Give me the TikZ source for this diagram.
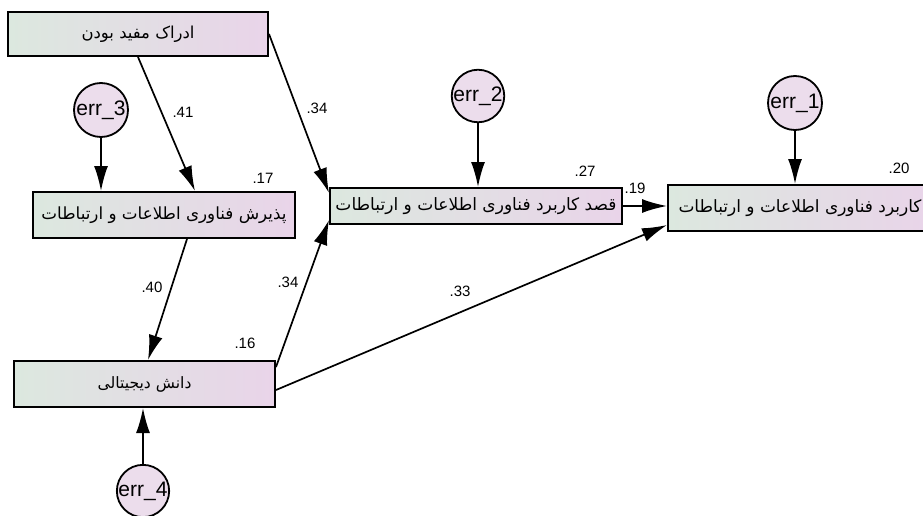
\documentclass[tikz,border=0pt]{standalone}
\usepackage{fontspec}
\usepackage{graphicx}
\setmainfont{Liberation Sans}
\newfontfamily\arabicfont[Script=Arabic]{DejaVu Sans}
\TeXXeTstate=1
\usetikzlibrary{arrows.meta,calc}

\definecolor{boxleft}{HTML}{DCE8DF}
\definecolor{boxright}{HTML}{E9D4E9}
\definecolor{errfill}{HTML}{ECDDEC}

\tikzset{
  varbox/.style={draw=black, line width=2pt, rectangle, inner sep=0pt,
    left color=boxleft, right color=boxright,
    font=\arabicfont\fontsize{16}{16}\selectfont},
  errnode/.style={draw=black, line width=1.8pt, circle, inner sep=0pt,
    fill=errfill, font=\fontsize{21}{23}\selectfont},
  causal/.style={line width=1.7pt, -{Latex[length=25pt,width=14pt]}},
  coef/.style={font=\fontsize{15}{17}\selectfont, inner sep=0pt}
}

\begin{document}
\begin{tikzpicture}[x=1pt,y=-1pt]
\useasboundingbox (0,0) rectangle (923,516);

% observed variables (Persian labels, right to left, brought to a set width)
\node[varbox, minimum width=260pt, minimum height=44pt] (A) at (138,34)
  {\resizebox{113pt}{!}{\beginR ادراک مفید بودن\endR}};
\node[varbox, minimum width=262pt, minimum height=46pt] (B) at (164,215)
  {\resizebox{245pt}{!}{\beginR پذیرش فناوری اطلاعات و ارتباطات\endR}};
\node[varbox, minimum width=261pt, minimum height=46pt] (D) at (144.5,384)
  {\resizebox{94pt}{!}{\beginR دانش دیجیتالی\endR}};
\node[varbox, minimum width=292pt, minimum height=36pt] (C) at (476,206)
  {\resizebox{281pt}{!}{\beginR قصد کاربرد فناوری اطلاعات و ارتباطات\endR}};
\node[varbox, minimum width=264pt, minimum height=46pt] (E) at (800,208)
  {\resizebox{243pt}{!}{\beginR کاربرد فناوری اطلاعات و ارتباطات\endR}};

% error terms
\node[errnode, minimum size=54pt] (e3) at (101,110) {err\_3};
\node[errnode, minimum size=52pt] (e2) at (478,96) {err\_2};
\node[errnode, minimum size=54pt] (e1) at (795,103) {err\_1};
\node[errnode, minimum size=52pt] (e4) at (143,491) {err\_4};

% structural paths
\draw[causal] (A.south) -- ([xshift=31pt]B.north);
\draw[causal] (A.east) -- ([yshift=13pt]C.west);
\draw[causal] ([xshift=23pt]B.south) -- ([xshift=3.5pt]D.north);
\draw[causal] ([yshift=17pt]D.east) -- ([yshift=-14pt]C.west);
\draw[causal] ([yshift=-6pt]D.east) -- ([yshift=-17pt]E.west);
\draw[causal] (C.east) -- (C.east -| E.west);

% error paths
\draw[causal] (e3.south) -- (e3.south |- B.north);
\draw[causal] (e2.south) -- (e2.south |- C.north);
\draw[causal] (e1.south) -- (e1.south |- E.north);
\draw[causal] (e4.north) -- (e4.north |- D.south);

% coefficients
\node[coef] (c41) at (183,112) {.41};
\node[coef] (c34a) at (317,108) {.34};
\node[coef] (c17) at (263,178) {.17};
\node[coef] (c40) at (152,287) {.40};
\node[coef] (c34b) at (288,282) {.34};
\node[coef] (c16) at (245,343) {.16};
\node[coef] (c27) at (585,171) {.27};
\node[coef] (c19) at (635,188) {.19};
\node[coef] (c20) at (899,168) {.20};
\node[coef] (c33) at (460,291) {.33};
\end{tikzpicture}
\end{document}
